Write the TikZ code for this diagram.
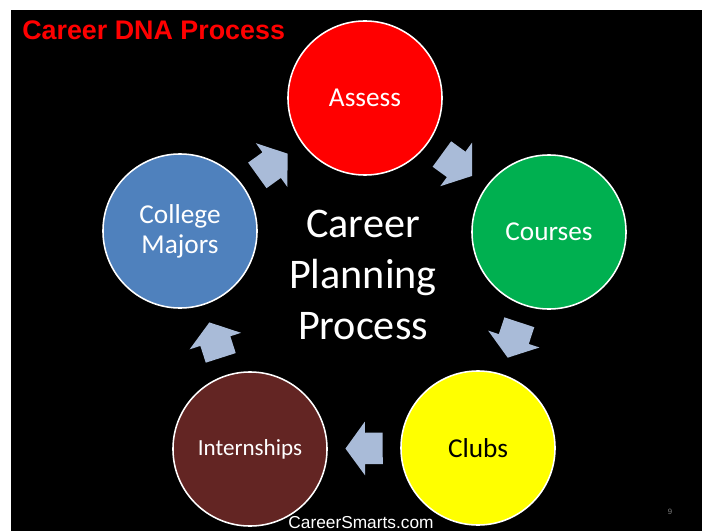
\documentclass[tikz,border=0pt]{standalone}
\usepackage{fontspec}
\usepackage{xcolor}
\usepackage{tikz}
\usetikzlibrary{shapes.arrows, positioning, calc}
\newfontfamily\calibrifont{Carlito}
\newfontfamily\arialfont{Liberation Sans}
\definecolor{assessred}{HTML}{FF0000}
\definecolor{coursegreen}{HTML}{00B050}
\definecolor{clubyellow}{HTML}{FFFF00}
\definecolor{internbrown}{HTML}{632523}
\definecolor{majorblue}{HTML}{4F81BD}
\definecolor{cyclesteel}{RGB}{169,187,216}

\begin{document}
\begin{tikzpicture}[
    x=0.025cm, y=-0.025cm,
    % Node styles
    stage/.style={circle, draw=white, line width=1.1pt, minimum size=3.85cm, inner sep=0pt, align=center, text=white, font=\calibrifont\fontsize{19.4}{21.5}\selectfont},
    cyclearrow/.style={single arrow, fill=cyclesteel, draw=none, inner xsep=0pt, inner ysep=11pt, minimum height=26.5pt, single arrow head extend=8pt, single arrow tip angle=108, pos=0.42, sloped, allow upside down},
    titletext/.style={font=\arialfont\bfseries\fontsize{19.1}{23}\selectfont, text=red, inner sep=0pt},
    centertext/.style={font=\calibrifont\fontsize{30}{36.3}\selectfont, text=white, align=center, inner sep=0pt}
]
\useasboundingbox (0,0) rectangle (702,531);

% ========== SLIDE ==========
\fill[white] (0,0) rectangle (702,531);
\fill[black] (11,10) rectangle (702,531);

% Title
\node[titletext, anchor=west] (title) at (22,30.5) {Career DNA Process};

% ========== CYCLE STAGES ==========
\node[stage, fill=assessred] (assess) at (365,98) {Assess};
\node[stage, fill=coursegreen] (courses) at (549,232) {Courses};
\node[stage, fill=clubyellow, text=black] (clubs) at (478,448) {Clubs};
\node[stage, fill=internbrown, font=\calibrifont\fontsize{16.4}{20}\selectfont] (intern) at (250,449) {Internships};
\node[stage, fill=majorblue] (majors) at (180,231) {College\\Majors};

% Centre label
\node[centertext] (centre) at (363,275) {Career\\Planning\\Process};

% ========== ARROWS ==========
\path (majors) -- node[cyclearrow] (a1) {} (assess);
\path (assess) -- node[cyclearrow] (a2) {} (courses);
\path (courses) -- node[cyclearrow] (a3) {} (clubs);
\path (clubs) -- node[cyclearrow] (a4) {} (intern);
\path (intern) -- node[cyclearrow] (a5) {} (majors);

% ========== FOOTER ==========
\node[font=\arialfont\fontsize{12.3}{14}\selectfont, text=white, inner sep=0pt] (site) at (361,523) {CareerSmarts.com};
\node[font=\arialfont\fontsize{5.5}{6}\selectfont, text=gray, inner sep=0pt] (pagenum) at (670,512) {9};

\end{tikzpicture}
\end{document}
